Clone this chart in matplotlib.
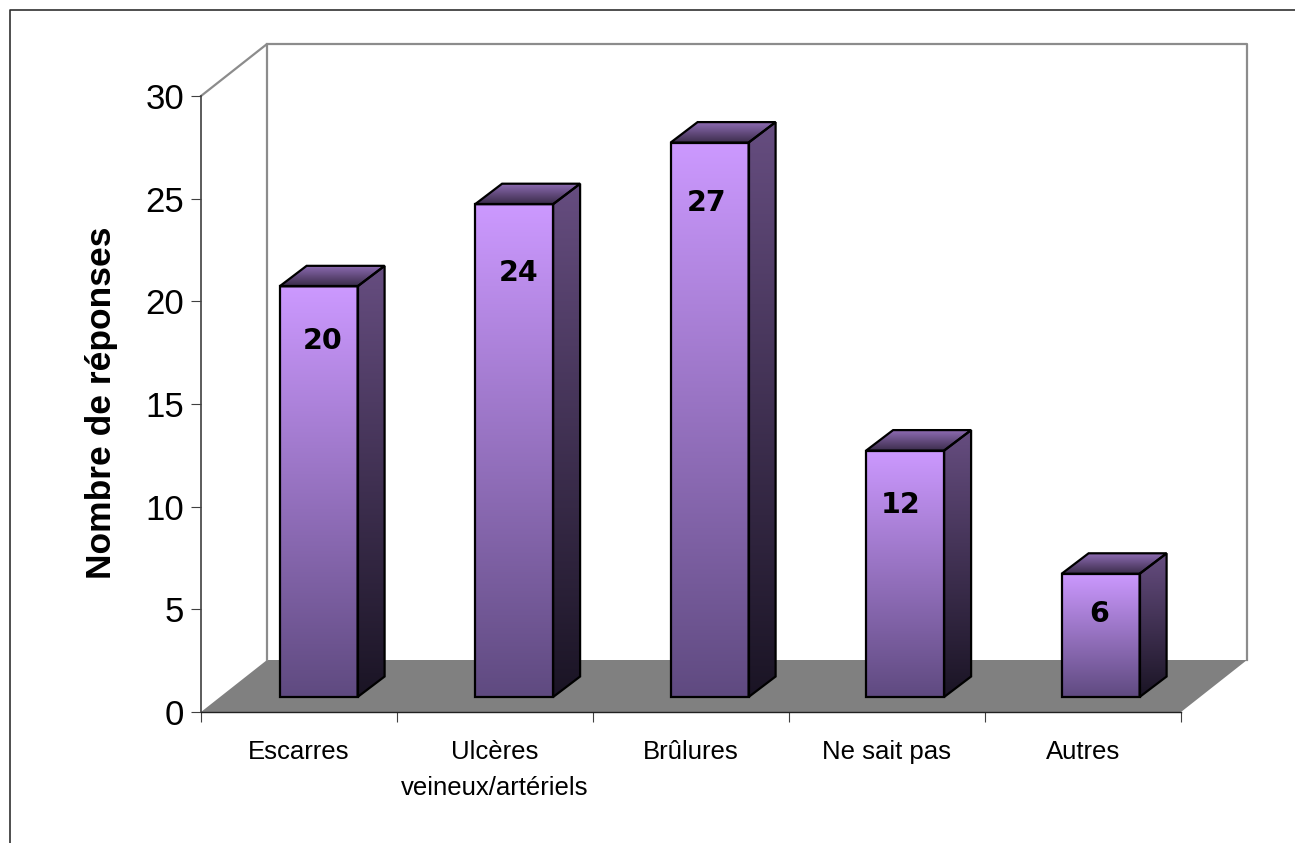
import numpy as np
import matplotlib
matplotlib.use("Agg")
import matplotlib.pyplot as plt
from matplotlib.colors import LinearSegmentedColormap
from matplotlib.lines import Line2D
from matplotlib.patches import Polygon

# data
categories = ["Escarres", "Ulcères\nveineux/artériels", "Brûlures", "Ne sait pas", "Autres"]
values = [20, 24, 27, 12, 6]
y_ticks = [0, 5, 10, 15, 20, 25, 30]

W, H = 1295, 843
AX_L, AX_R, AX_T, AX_B = 201, 1181, 96, 712

# label placement, pixels relative to the bar top centre
label_dx = [4, 4, -3, -4, -1]
label_drop = [55, 69, 60, 54, 40]

fig = plt.figure(figsize=(W / 100, H / 100), dpi=100, facecolor="white")
ax = fig.add_axes([AX_L / W, 1 - AX_B / H, (AX_R - AX_L) / W, (AX_B - AX_T) / H])
ax.set_xlim(0, 5)
ax.set_ylim(0, 30)
ax.patch.set_visible(False)

ux = 5 / (AX_R - AX_L)  # data units per pixel
uy = 30 / (AX_B - AX_T)


def gradient_face(pts, stops):
    # vertical gradient clipped to a polygon, first stop is the top colour
    pts = np.array(pts)
    cmap = LinearSegmentedColormap.from_list("g", stops)
    ext = [pts[:, 0].min(), pts[:, 0].max(), pts[:, 1].min(), pts[:, 1].max()]
    im = ax.imshow(np.linspace(0, 1, 256).reshape(-1, 1), cmap=cmap, extent=ext,
                   aspect="auto", origin="upper", zorder=3, clip_on=True)
    poly = Polygon(pts, closed=True, facecolor="none", edgecolor="black",
                   linewidth=1.6, joinstyle="miter", zorder=4, clip_on=False)
    ax.add_patch(poly)
    im.set_clip_path(poly)


# walls and floor
wx, wy = 66 * ux, 52 * uy
ax.add_patch(Polygon([(0, 0), (wx, wy), (5 + wx, wy), (5, 0)], closed=True,
                     facecolor="#808080", edgecolor="none", zorder=1, clip_on=False))
ax.plot([0, wx, wx], [30, 30 + wy, wy], color="#8c8c8c", lw=1.6, zorder=1, clip_on=False)
ax.plot([wx, 5 + wx, 5 + wx], [30 + wy, 30 + wy, wy], color="#8c8c8c", lw=1.6, zorder=1, clip_on=False)

# bars
bar_w = 78 * ux
bar_off = 0.6 - bar_w / 2
bar_step = 195.5 / 196
y0 = 15 * uy
dx, dy = 27 * ux, 20.5 * uy

for i, v in enumerate(values):
    x0 = i * bar_step + bar_off
    x1 = x0 + bar_w
    top = y0 + v
    gradient_face([(x1, y0), (x1 + dx, y0 + dy), (x1 + dx, top + dy), (x1, top)],
                  ["#664d80", "#1a1424"])
    gradient_face([(x0, top), (x0 + dx, top + dy), (x1 + dx, top + dy), (x1, top)],
                  ["#8f6cb4", "#3a2c4a"])
    gradient_face([(x0, y0), (x0, top), (x1, top), (x1, y0)],
                  ["#cc99ff", "#5f4a80"])
    ax.text((x0 + x1) / 2 + label_dx[i] * ux, top - label_drop[i] * uy, str(v),
            ha="center", va="center", fontsize=20.5, fontweight="bold",
            family="DejaVu Sans", color="black", zorder=5)

# axes
for s in ["top", "right"]:
    ax.spines[s].set_visible(False)
ax.spines["left"].set_color("#404040")
ax.spines["left"].set_linewidth(1.2)
ax.spines["bottom"].set_color("#202020")
ax.spines["bottom"].set_linewidth(1.0)
ax.spines["left"].set_zorder(2)
ax.spines["bottom"].set_zorder(2)

ax.set_yticks(y_ticks)
ax.set_yticklabels([str(t) for t in y_ticks], family="Liberation Sans", fontsize=25)
ax.tick_params(axis="y", length=7.5, width=0.8, color="#404040", pad=4.5)

ax.set_xticks(range(6))
ax.set_xticklabels([])
ax.tick_params(axis="x", which="major", length=7, width=0.8, color="#404040")
ax.set_xticks(np.arange(len(categories)) + 0.5, minor=True)
ax.set_xticklabels(categories, minor=True, family="Liberation Sans", fontsize=18.5, linespacing=1.62)
ax.tick_params(axis="x", which="minor", length=0, pad=20.5)

fig.text(98 / W, 1 - 403 / H, "Nombre de réponses", rotation=90, ha="center", va="center",
         family="Liberation Sans", fontweight="bold", fontsize=25.5).set_x(102 / W)

# outer frame, only left and top show
fig.add_artist(Line2D([10 / W, 10 / W, 1], [0, 1 - 10 / H, 1 - 10 / H],
                      transform=fig.transFigure, color="#303030", lw=1.2))

fig.savefig("out.png", dpi=100)
